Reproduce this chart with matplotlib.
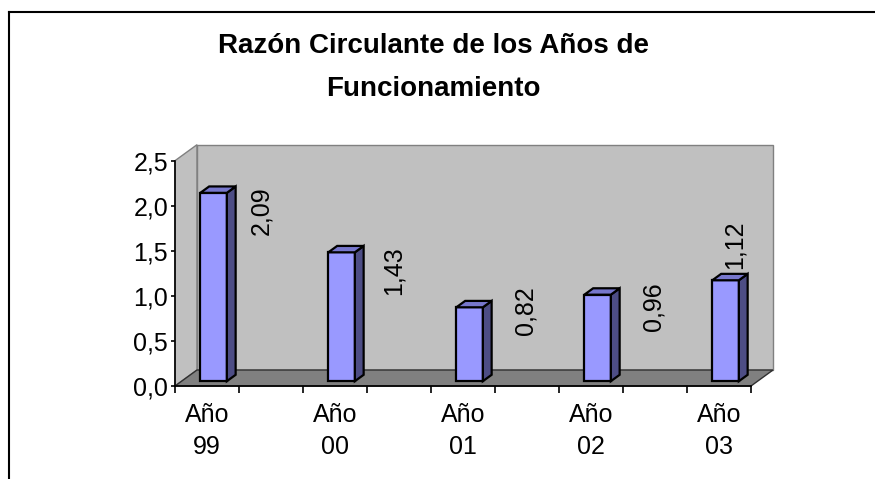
import matplotlib
matplotlib.use("Agg")
import matplotlib.pyplot as plt
from matplotlib.patches import Polygon, Rectangle
from matplotlib.lines import Line2D
import numpy as np

plt.rcParams['font.family'] = ['Liberation Sans', 'DejaVu Sans']

# data
years = ["Año\n99", "Año\n00", "Año\n01", "Año\n02", "Año\n03"]
ratios = [2.09, 1.43, 0.82, 0.96, 1.12]
value_labels = ["2,09", "1,43", "0,82", "0,96", "1,12"]
y_ticks = [0.0, 0.5, 1.0, 1.5, 2.0, 2.5]

# where excel put the rotated labels (offset from bar centre / top)
label_dx = [0.42, 0.46, 0.49, 0.49, 0.12]
label_dy = [0.12, 0.12, 0.29, 0.19, 0.72]

W, H = 875, 479
fig = plt.figure(figsize=(W / 100, H / 100), dpi=100)
ax = fig.add_axes([175 / W, 93 / H, 576 / W, 225.3 / H])
ax.set_xlim(-0.25, 4.25)
ax.set_ylim(0, 2.5)
ax.patch.set_visible(False)

# depth of the 3d box in data units
ddx = 22 / 128
ddy = 16 / 90.1
x0, x1 = -0.25, 4.25
top = 2.5

wall = '#C0C0C0'
ax.add_patch(Polygon([(x0, 0), (x0, top), (x0 + ddx, top + ddy), (x0 + ddx, ddy)],
                     closed=True, fc=wall, ec='#808080', lw=1, clip_on=False, zorder=1))
ax.add_patch(Polygon([(x0 + ddx, ddy), (x1 + ddx, ddy), (x1 + ddx, top + ddy), (x0 + ddx, top + ddy)],
                     closed=True, fc=wall, ec='#808080', lw=1, clip_on=False, zorder=1))
ax.add_patch(Polygon([(x0, 0), (x1, 0), (x1 + ddx, ddy), (x0 + ddx, ddy)],
                     closed=True, fc='#808080', ec='#303030', lw=1, clip_on=False, zorder=1.2))

# bars
w = 0.207
f0, f1 = 0.3, 0.7
for i, v in enumerate(ratios):
    bx = i - w / 2 + f0 * ddx
    by = f0 * ddy
    sx = (f1 - f0) * ddx
    sy = (f1 - f0) * ddy
    ax.add_patch(Rectangle((bx, by), w, v, fc='#9999FF', ec='black', lw=1.6,
                           clip_on=False, zorder=3))
    ax.add_patch(Polygon([(bx + w, by), (bx + w, by + v), (bx + w + sx, by + v + sy), (bx + w + sx, by + sy)],
                         closed=True, fc='#4D4D85', ec='black', lw=1.6, clip_on=False, zorder=3))
    ax.add_patch(Polygon([(bx, by + v), (bx + w, by + v), (bx + w + sx, by + v + sy), (bx + sx, by + v + sy)],
                         closed=True, fc='#7777CC', ec='black', lw=1.6, clip_on=False, zorder=3))
    ax.text(i + label_dx[i], v + label_dy[i], value_labels[i], rotation=90,
            ha='center', va='top', fontsize=18, zorder=4)

for s in ['top', 'right']:
    ax.spines[s].set_visible(False)
for s in ['left', 'bottom']:
    ax.spines[s].set_color('black')
    ax.spines[s].set_linewidth(1.2)
    ax.spines[s].set_zorder(2.5)

ax.set_yticks(y_ticks)
ax.set_yticklabels([f"{t:.1f}".replace('.', ',') for t in y_ticks])
ax.tick_params(axis='y', length=3, width=1.2, pad=2, labelsize=18)

ax.set_xticks(np.arange(-0.25, 4.3, 0.5))
ax.set_xticklabels([])
ax.tick_params(axis='x', which='major', length=5, width=1.2)
ax.set_xticks(range(len(years)), minor=True)
ax.set_xticklabels(years, minor=True, fontsize=18, linespacing=1.45)
ax.tick_params(axis='x', which='minor', length=0, pad=12)

fig.text(433 / W, 1 - 46 / H, "Razón Circulante de los Años de", ha='center', va='center',
         fontsize=20, fontweight='bold')
fig.text(433 / W, 1 - 89 / H, "Funcionamiento", ha='center', va='center',
         fontsize=20, fontweight='bold')

# chart frame, cut off on the right and bottom
fig.add_artist(Line2D([8.5 / W, 8.5 / W], [0, 1 - 12 / H], color='black', lw=1.5))
fig.add_artist(Line2D([8.5 / W, 1], [1 - 12 / H, 1 - 12 / H], color='black', lw=1.5))

fig.savefig("out.png", dpi=100)
